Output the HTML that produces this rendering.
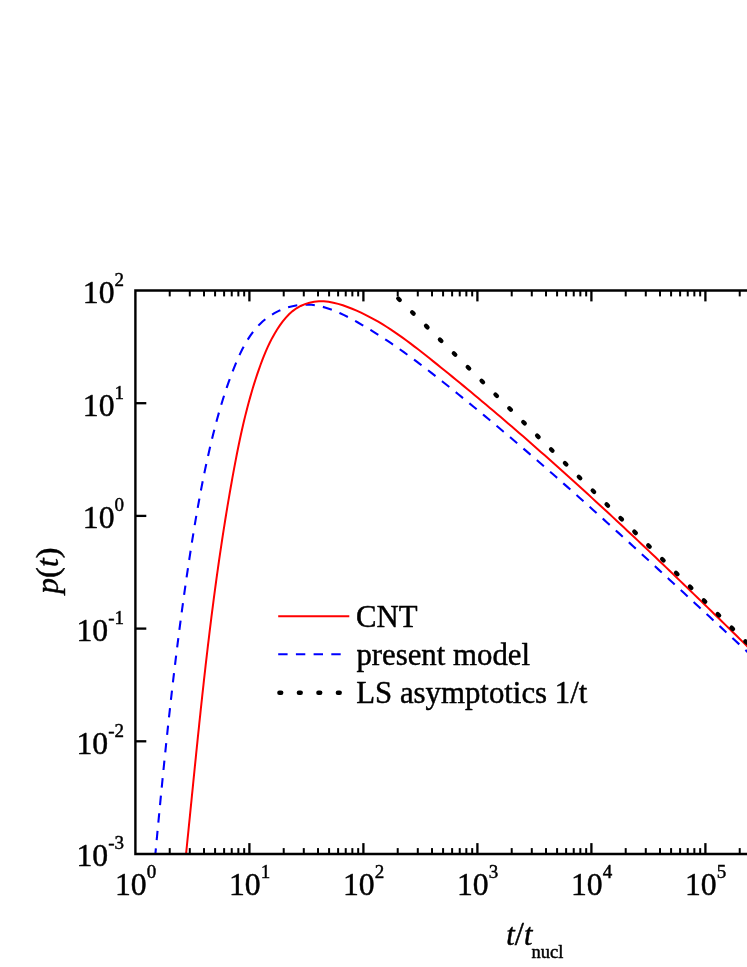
<!DOCTYPE html>
<html><head><meta charset="utf-8"><title>p(t)</title>
<style>
html,body{margin:0;padding:0;background:#fff;}
body{width:747px;height:967px;overflow:hidden;font-family:"Liberation Serif",serif;}
svg{display:block;will-change:transform;}
text{font-family:"Liberation Serif",serif;fill:#000;stroke:#000;stroke-width:0.45px;stroke-linejoin:round;}
.tl{font-size:31.7px;}
.sup{font-size:19px;}
.lg{font-size:30.8px;}
.it{font-style:italic;}
</style></head><body>
<svg width="747" height="967" viewBox="0 0 747 967">
<rect x="0" y="0" width="747" height="967" fill="#fff"/>
<defs><clipPath id="pc"><rect x="135.4" y="290.5" width="616.6" height="563.5"/></clipPath></defs>

<g clip-path="url(#pc)" fill="none">
<path d="M155.37,854.05 L155.83,849.12 L156.29,844.19 L156.76,839.27 L157.22,834.34 L157.68,829.42 L158.15,824.50 L158.62,819.58 L159.09,814.66 L159.56,809.74 L160.04,804.82 L160.51,799.90 L160.99,794.98 L161.47,790.07 L161.96,785.15 L162.44,780.24 L162.93,775.32 L163.43,770.41 L163.92,765.50 L164.42,760.59 L164.93,755.68 L165.43,750.77 L165.94,745.86 L166.46,740.95 L166.97,736.05 L167.50,731.14 L168.02,726.23 L168.55,721.33 L169.09,716.42 L169.62,711.52 L170.17,706.62 L170.72,701.72 L171.27,696.81 L171.83,691.91 L172.39,687.01 L172.96,682.11 L173.53,677.21 L174.11,672.31 L174.70,667.42 L175.29,662.52 L175.88,657.62 L176.48,652.72 L177.09,647.83 L177.71,642.93 L178.33,638.04 L178.95,633.14 L179.59,628.25 L180.23,623.35 L180.88,618.46 L181.53,613.57 L182.19,608.68 L182.86,603.78 L183.54,598.89 L184.22,594.00 L184.91,589.11 L185.61,584.22 L186.31,579.33 L187.03,574.43 L187.75,569.54 L188.48,564.65 L189.22,559.76 L189.97,554.88 L190.72,549.99 L191.49,545.10 L192.26,540.21 L193.05,535.32 L193.84,530.44 L194.65,525.56 L195.48,520.68 L196.31,515.80 L197.16,510.93 L198.03,506.06 L198.91,501.20 L199.80,496.34 L200.72,491.49 L201.65,486.64 L202.60,481.80 L203.57,476.96 L204.56,472.13 L205.58,467.31 L206.61,462.50 L207.66,457.69 L208.74,452.90 L209.84,448.11 L210.97,443.33 L212.12,438.56 L213.30,433.80 L214.50,429.06 L215.74,424.32 L217.00,419.59 L218.31,414.87 L219.65,410.15 L221.04,405.44 L222.47,400.74 L223.95,396.04 L225.48,391.35 L227.07,386.65 L228.71,381.96 L230.42,377.27 L232.20,372.58 L234.04,367.88 L235.95,363.19 L237.95,358.52 L240.05,353.90 L242.27,349.34 L244.63,344.88 L247.14,340.54 L249.82,336.35 L252.68,332.33 L255.75,328.50 L259.03,324.89 L262.55,321.54 L266.31,318.44 L270.28,315.63 L274.44,313.11 L278.76,310.89 L283.23,308.98 L287.81,307.40 L292.48,306.16 L297.21,305.27 L301.99,304.74 L306.78,304.58 L311.56,304.81 L316.31,305.42 L321.04,306.38 L325.73,307.65 L330.39,309.19 L335.01,310.98 L339.60,312.98 L344.14,315.14 L348.65,317.44 L353.11,319.83 L357.52,322.29 L361.89,324.79 L366.22,327.34 L370.51,329.93 L374.75,332.56 L378.96,335.23 L383.13,337.93 L387.27,340.67 L391.38,343.44 L395.45,346.24 L399.50,349.08 L403.52,351.94 L407.52,354.83 L411.49,357.74 L415.44,360.68 L419.37,363.64 L423.29,366.61 L427.18,369.61 L431.07,372.62 L434.94,375.65 L438.80,378.69 L442.66,381.74 L446.50,384.80 L450.34,387.87 L454.18,390.95 L458.01,394.04 L461.83,397.13 L465.65,400.23 L469.47,403.35 L473.28,406.47 L477.08,409.59 L480.88,412.73 L484.68,415.87 L488.47,419.02 L492.25,422.17 L496.03,425.34 L499.80,428.51 L503.58,431.69 L507.34,434.87 L511.10,438.06 L514.86,441.26 L518.61,444.46 L522.36,447.67 L526.11,450.89 L529.85,454.11 L533.58,457.34 L537.31,460.57 L541.04,463.81 L544.76,467.05 L548.49,470.30 L552.20,473.56 L555.91,476.82 L559.62,480.08 L563.33,483.35 L567.03,486.63 L570.73,489.91 L574.42,493.19 L578.12,496.48 L581.80,499.77 L585.49,503.06 L589.17,506.36 L592.85,509.67 L596.53,512.97 L600.20,516.28 L603.87,519.60 L607.54,522.91 L611.20,526.23 L614.87,529.56 L618.52,532.88 L622.18,536.21 L625.84,539.54 L629.49,542.88 L633.14,546.21 L636.79,549.55 L640.43,552.89 L644.07,556.23 L647.72,559.58 L651.35,562.92 L654.99,566.27 L658.63,569.62 L662.26,572.97 L665.89,576.32 L669.52,579.67 L673.15,583.03 L676.78,586.38 L680.40,589.73 L684.02,593.09 L687.65,596.45 L691.27,599.80 L694.89,603.16 L698.51,606.51 L702.12,609.87 L705.74,613.23 L709.36,616.58 L712.97,619.94 L716.58,623.29 L720.20,626.64 L723.81,630.00 L727.42,633.35 L731.03,636.70 L734.64,640.05 L738.25,643.39 L741.86,646.74 L745.47,650.08 L749.08,653.43 L752.69,656.77 L756.30,660.11 L759.91,663.44" stroke="#0000ff" stroke-width="2.1" stroke-dasharray="9.4 8.23" stroke-dashoffset="3.7"/>
<path d="M186.06,853.92 L186.56,849.09 L187.05,844.26 L187.54,839.44 L188.03,834.61 L188.51,829.78 L189.00,824.95 L189.49,820.12 L189.97,815.29 L190.46,810.46 L190.94,805.62 L191.43,800.79 L191.91,795.96 L192.40,791.13 L192.88,786.29 L193.37,781.46 L193.85,776.63 L194.34,771.79 L194.83,766.96 L195.32,762.13 L195.81,757.29 L196.30,752.46 L196.80,747.63 L197.29,742.79 L197.79,737.96 L198.29,733.12 L198.80,728.29 L199.30,723.46 L199.81,718.62 L200.32,713.79 L200.83,708.96 L201.35,704.13 L201.87,699.29 L202.40,694.46 L202.93,689.63 L203.46,684.80 L203.99,679.97 L204.53,675.14 L205.08,670.31 L205.63,665.48 L206.18,660.65 L206.74,655.82 L207.31,651.00 L207.87,646.17 L208.45,641.34 L209.03,636.52 L209.62,631.70 L210.21,626.87 L210.80,622.05 L211.41,617.23 L212.02,612.41 L212.64,607.59 L213.26,602.77 L213.89,597.95 L214.53,593.13 L215.17,588.32 L215.83,583.50 L216.49,578.69 L217.15,573.88 L217.83,569.07 L218.51,564.26 L219.21,559.45 L219.91,554.64 L220.62,549.84 L221.33,545.03 L222.06,540.23 L222.80,535.43 L223.54,530.63 L224.30,525.83 L225.06,521.03 L225.83,516.24 L226.62,511.44 L227.41,506.65 L228.21,501.86 L229.03,497.07 L229.85,492.28 L230.69,487.50 L231.54,482.71 L232.39,477.93 L233.26,473.15 L234.14,468.37 L235.04,463.60 L235.95,458.83 L236.88,454.06 L237.83,449.30 L238.80,444.54 L239.79,439.79 L240.81,435.04 L241.86,430.30 L242.94,425.57 L244.04,420.84 L245.18,416.13 L246.36,411.42 L247.57,406.72 L248.83,402.03 L250.12,397.36 L251.45,392.69 L252.83,388.04 L254.26,383.40 L255.74,378.77 L257.26,374.16 L258.84,369.56 L260.47,364.97 L262.17,360.41 L263.94,355.87 L265.80,351.37 L267.77,346.91 L269.86,342.51 L272.08,338.16 L274.45,333.89 L276.97,329.69 L279.68,325.58 L282.57,321.59 L285.68,317.79 L289.02,314.26 L292.61,311.07 L296.47,308.28 L300.61,305.96 L304.97,304.10 L309.51,302.71 L314.19,301.79 L318.95,301.34 L323.75,301.36 L328.56,301.83 L333.35,302.69 L338.11,303.88 L342.83,305.32 L347.49,306.97 L352.08,308.76 L356.60,310.66 L361.05,312.68 L365.44,314.80 L369.76,317.02 L374.02,319.33 L378.23,321.73 L382.39,324.21 L386.50,326.77 L390.57,329.40 L394.59,332.09 L398.58,334.84 L402.53,337.65 L406.45,340.51 L410.34,343.40 L414.21,346.34 L418.06,349.30 L421.89,352.29 L425.71,355.30 L429.52,358.33 L433.32,361.36 L437.11,364.40 L440.90,367.44 L444.68,370.50 L448.46,373.56 L452.23,376.62 L456.00,379.70 L459.76,382.78 L463.51,385.87 L467.26,388.96 L471.00,392.06 L474.73,395.17 L478.46,398.28 L482.19,401.40 L485.91,404.53 L489.62,407.66 L493.33,410.80 L497.04,413.94 L500.73,417.09 L504.43,420.25 L508.12,423.41 L511.80,426.58 L515.48,429.75 L519.15,432.93 L522.82,436.12 L526.48,439.31 L530.14,442.51 L533.79,445.71 L537.44,448.91 L541.09,452.13 L544.73,455.34 L548.36,458.57 L551.99,461.80 L555.62,465.03 L559.24,468.27 L562.86,471.51 L566.47,474.76 L570.08,478.01 L573.69,481.27 L577.29,484.53 L580.88,487.79 L584.47,491.07 L588.06,494.34 L591.65,497.62 L595.23,500.90 L598.80,504.19 L602.38,507.49 L605.95,510.78 L609.51,514.08 L613.07,517.39 L616.63,520.70 L620.19,524.01 L623.74,527.33 L627.28,530.65 L630.83,533.97 L634.37,537.30 L637.91,540.63 L641.44,543.96 L644.97,547.30 L648.50,550.64 L652.03,553.99 L655.55,557.33 L659.07,560.68 L662.58,564.04 L666.10,567.40 L669.61,570.76 L673.11,574.12 L676.62,577.48 L680.12,580.85 L683.62,584.22 L687.12,587.60 L690.61,590.98 L694.10,594.35 L697.59,597.74 L701.08,601.12 L704.56,604.51 L708.05,607.89 L711.53,611.28 L715.01,614.68 L718.48,618.07 L721.96,621.47 L725.43,624.87 L728.90,628.27 L732.37,631.67 L735.83,635.08 L739.30,638.48 L742.76,641.89 L746.22,645.30 L749.68,648.71 L753.14,652.12 L756.59,655.53 L760.05,658.95" stroke="#ff0000" stroke-width="2.0"/>
</g>
<g stroke="#000" stroke-width="4.3" stroke-linecap="round">
<line x1="398.25" y1="298.46" x2="399.75" y2="299.94"/>
<line x1="412.14" y1="312.18" x2="413.63" y2="313.65"/>
<line x1="426.03" y1="325.89" x2="427.52" y2="327.37"/>
<line x1="439.91" y1="339.61" x2="441.41" y2="341.09"/>
<line x1="453.80" y1="353.33" x2="455.30" y2="354.80"/>
<line x1="467.69" y1="367.04" x2="469.18" y2="368.52"/>
<line x1="481.57" y1="380.76" x2="483.07" y2="382.23"/>
<line x1="495.46" y1="394.47" x2="496.96" y2="395.95"/>
<line x1="509.35" y1="408.19" x2="510.84" y2="409.67"/>
<line x1="523.24" y1="421.91" x2="524.73" y2="423.38"/>
<line x1="537.12" y1="435.62" x2="538.62" y2="437.10"/>
<line x1="551.01" y1="449.34" x2="552.50" y2="450.81"/>
<line x1="564.90" y1="463.05" x2="566.39" y2="464.53"/>
<line x1="578.78" y1="476.77" x2="580.28" y2="478.25"/>
<line x1="592.67" y1="490.49" x2="594.17" y2="491.96"/>
<line x1="606.56" y1="504.20" x2="608.05" y2="505.68"/>
<line x1="620.44" y1="517.92" x2="621.94" y2="519.39"/>
<line x1="634.33" y1="531.63" x2="635.83" y2="533.11"/>
<line x1="648.22" y1="545.35" x2="649.71" y2="546.83"/>
<line x1="662.11" y1="559.07" x2="663.60" y2="560.54"/>
<line x1="675.99" y1="572.78" x2="677.49" y2="574.26"/>
<line x1="689.88" y1="586.50" x2="691.37" y2="587.97"/>
<line x1="703.77" y1="600.21" x2="705.26" y2="601.69"/>
<line x1="717.65" y1="613.93" x2="719.15" y2="615.41"/>
<line x1="731.54" y1="627.65" x2="733.04" y2="629.12"/>
<line x1="745.43" y1="641.36" x2="746.92" y2="642.84"/>
</g>
<g stroke="#000" stroke-width="2.4" fill="none" stroke-linecap="butt">
<path d="M749,290.5 L135.4,290.5 L135.4,854.0 L749,854.0" stroke-linejoin="miter"/>
</g>
<g stroke="#000" stroke-width="2.3">
<line x1="169.72" y1="290.5" x2="169.72" y2="296.4" stroke-width="2"/>
<line x1="169.72" y1="854.0" x2="169.72" y2="848.1" stroke-width="2"/>
<line x1="189.79" y1="290.5" x2="189.79" y2="296.4" stroke-width="2"/>
<line x1="189.79" y1="854.0" x2="189.79" y2="848.1" stroke-width="2"/>
<line x1="204.03" y1="290.5" x2="204.03" y2="296.4" stroke-width="2"/>
<line x1="204.03" y1="854.0" x2="204.03" y2="848.1" stroke-width="2"/>
<line x1="215.08" y1="290.5" x2="215.08" y2="296.4" stroke-width="2"/>
<line x1="215.08" y1="854.0" x2="215.08" y2="848.1" stroke-width="2"/>
<line x1="224.11" y1="290.5" x2="224.11" y2="296.4" stroke-width="2"/>
<line x1="224.11" y1="854.0" x2="224.11" y2="848.1" stroke-width="2"/>
<line x1="231.74" y1="290.5" x2="231.74" y2="296.4" stroke-width="2"/>
<line x1="231.74" y1="854.0" x2="231.74" y2="848.1" stroke-width="2"/>
<line x1="238.35" y1="290.5" x2="238.35" y2="296.4" stroke-width="2"/>
<line x1="238.35" y1="854.0" x2="238.35" y2="848.1" stroke-width="2"/>
<line x1="244.18" y1="290.5" x2="244.18" y2="296.4" stroke-width="2"/>
<line x1="244.18" y1="854.0" x2="244.18" y2="848.1" stroke-width="2"/>
<line x1="249.40" y1="290.5" x2="249.40" y2="301.4"/>
<line x1="249.40" y1="854.0" x2="249.40" y2="843.1"/>
<line x1="283.72" y1="290.5" x2="283.72" y2="296.4" stroke-width="2"/>
<line x1="283.72" y1="854.0" x2="283.72" y2="848.1" stroke-width="2"/>
<line x1="303.79" y1="290.5" x2="303.79" y2="296.4" stroke-width="2"/>
<line x1="303.79" y1="854.0" x2="303.79" y2="848.1" stroke-width="2"/>
<line x1="318.03" y1="290.5" x2="318.03" y2="296.4" stroke-width="2"/>
<line x1="318.03" y1="854.0" x2="318.03" y2="848.1" stroke-width="2"/>
<line x1="329.08" y1="290.5" x2="329.08" y2="296.4" stroke-width="2"/>
<line x1="329.08" y1="854.0" x2="329.08" y2="848.1" stroke-width="2"/>
<line x1="338.11" y1="290.5" x2="338.11" y2="296.4" stroke-width="2"/>
<line x1="338.11" y1="854.0" x2="338.11" y2="848.1" stroke-width="2"/>
<line x1="345.74" y1="290.5" x2="345.74" y2="296.4" stroke-width="2"/>
<line x1="345.74" y1="854.0" x2="345.74" y2="848.1" stroke-width="2"/>
<line x1="352.35" y1="290.5" x2="352.35" y2="296.4" stroke-width="2"/>
<line x1="352.35" y1="854.0" x2="352.35" y2="848.1" stroke-width="2"/>
<line x1="358.18" y1="290.5" x2="358.18" y2="296.4" stroke-width="2"/>
<line x1="358.18" y1="854.0" x2="358.18" y2="848.1" stroke-width="2"/>
<line x1="363.40" y1="290.5" x2="363.40" y2="301.4"/>
<line x1="363.40" y1="854.0" x2="363.40" y2="843.1"/>
<line x1="397.72" y1="290.5" x2="397.72" y2="296.4" stroke-width="2"/>
<line x1="397.72" y1="854.0" x2="397.72" y2="848.1" stroke-width="2"/>
<line x1="417.79" y1="290.5" x2="417.79" y2="296.4" stroke-width="2"/>
<line x1="417.79" y1="854.0" x2="417.79" y2="848.1" stroke-width="2"/>
<line x1="432.03" y1="290.5" x2="432.03" y2="296.4" stroke-width="2"/>
<line x1="432.03" y1="854.0" x2="432.03" y2="848.1" stroke-width="2"/>
<line x1="443.08" y1="290.5" x2="443.08" y2="296.4" stroke-width="2"/>
<line x1="443.08" y1="854.0" x2="443.08" y2="848.1" stroke-width="2"/>
<line x1="452.11" y1="290.5" x2="452.11" y2="296.4" stroke-width="2"/>
<line x1="452.11" y1="854.0" x2="452.11" y2="848.1" stroke-width="2"/>
<line x1="459.74" y1="290.5" x2="459.74" y2="296.4" stroke-width="2"/>
<line x1="459.74" y1="854.0" x2="459.74" y2="848.1" stroke-width="2"/>
<line x1="466.35" y1="290.5" x2="466.35" y2="296.4" stroke-width="2"/>
<line x1="466.35" y1="854.0" x2="466.35" y2="848.1" stroke-width="2"/>
<line x1="472.18" y1="290.5" x2="472.18" y2="296.4" stroke-width="2"/>
<line x1="472.18" y1="854.0" x2="472.18" y2="848.1" stroke-width="2"/>
<line x1="477.40" y1="290.5" x2="477.40" y2="301.4"/>
<line x1="477.40" y1="854.0" x2="477.40" y2="843.1"/>
<line x1="511.72" y1="290.5" x2="511.72" y2="296.4" stroke-width="2"/>
<line x1="511.72" y1="854.0" x2="511.72" y2="848.1" stroke-width="2"/>
<line x1="531.79" y1="290.5" x2="531.79" y2="296.4" stroke-width="2"/>
<line x1="531.79" y1="854.0" x2="531.79" y2="848.1" stroke-width="2"/>
<line x1="546.03" y1="290.5" x2="546.03" y2="296.4" stroke-width="2"/>
<line x1="546.03" y1="854.0" x2="546.03" y2="848.1" stroke-width="2"/>
<line x1="557.08" y1="290.5" x2="557.08" y2="296.4" stroke-width="2"/>
<line x1="557.08" y1="854.0" x2="557.08" y2="848.1" stroke-width="2"/>
<line x1="566.11" y1="290.5" x2="566.11" y2="296.4" stroke-width="2"/>
<line x1="566.11" y1="854.0" x2="566.11" y2="848.1" stroke-width="2"/>
<line x1="573.74" y1="290.5" x2="573.74" y2="296.4" stroke-width="2"/>
<line x1="573.74" y1="854.0" x2="573.74" y2="848.1" stroke-width="2"/>
<line x1="580.35" y1="290.5" x2="580.35" y2="296.4" stroke-width="2"/>
<line x1="580.35" y1="854.0" x2="580.35" y2="848.1" stroke-width="2"/>
<line x1="586.18" y1="290.5" x2="586.18" y2="296.4" stroke-width="2"/>
<line x1="586.18" y1="854.0" x2="586.18" y2="848.1" stroke-width="2"/>
<line x1="591.40" y1="290.5" x2="591.40" y2="301.4"/>
<line x1="591.40" y1="854.0" x2="591.40" y2="843.1"/>
<line x1="625.72" y1="290.5" x2="625.72" y2="296.4" stroke-width="2"/>
<line x1="625.72" y1="854.0" x2="625.72" y2="848.1" stroke-width="2"/>
<line x1="645.79" y1="290.5" x2="645.79" y2="296.4" stroke-width="2"/>
<line x1="645.79" y1="854.0" x2="645.79" y2="848.1" stroke-width="2"/>
<line x1="660.03" y1="290.5" x2="660.03" y2="296.4" stroke-width="2"/>
<line x1="660.03" y1="854.0" x2="660.03" y2="848.1" stroke-width="2"/>
<line x1="671.08" y1="290.5" x2="671.08" y2="296.4" stroke-width="2"/>
<line x1="671.08" y1="854.0" x2="671.08" y2="848.1" stroke-width="2"/>
<line x1="680.11" y1="290.5" x2="680.11" y2="296.4" stroke-width="2"/>
<line x1="680.11" y1="854.0" x2="680.11" y2="848.1" stroke-width="2"/>
<line x1="687.74" y1="290.5" x2="687.74" y2="296.4" stroke-width="2"/>
<line x1="687.74" y1="854.0" x2="687.74" y2="848.1" stroke-width="2"/>
<line x1="694.35" y1="290.5" x2="694.35" y2="296.4" stroke-width="2"/>
<line x1="694.35" y1="854.0" x2="694.35" y2="848.1" stroke-width="2"/>
<line x1="700.18" y1="290.5" x2="700.18" y2="296.4" stroke-width="2"/>
<line x1="700.18" y1="854.0" x2="700.18" y2="848.1" stroke-width="2"/>
<line x1="705.40" y1="290.5" x2="705.40" y2="301.4"/>
<line x1="705.40" y1="854.0" x2="705.40" y2="843.1"/>
<line x1="739.72" y1="290.5" x2="739.72" y2="296.4" stroke-width="2"/>
<line x1="739.72" y1="854.0" x2="739.72" y2="848.1" stroke-width="2"/>
<line x1="135.4" y1="741.30" x2="146.3" y2="741.30"/>
<line x1="135.4" y1="628.60" x2="146.3" y2="628.60"/>
<line x1="135.4" y1="515.90" x2="146.3" y2="515.90"/>
<line x1="135.4" y1="403.20" x2="146.3" y2="403.20"/>
</g>
<text x="124" y="866.40" text-anchor="end" class="tl">10<tspan class="sup" dy="-17.1">-3</tspan></text>
<text x="124" y="753.70" text-anchor="end" class="tl">10<tspan class="sup" dy="-17.1">-2</tspan></text>
<text x="124" y="641.00" text-anchor="end" class="tl">10<tspan class="sup" dy="-17.1">-1</tspan></text>
<text x="124" y="528.30" text-anchor="end" class="tl">10<tspan class="sup" dy="-17.1">0</tspan></text>
<text x="124" y="415.60" text-anchor="end" class="tl">10<tspan class="sup" dy="-17.1">1</tspan></text>
<text x="124" y="302.90" text-anchor="end" class="tl">10<tspan class="sup" dy="-17.1">2</tspan></text>
<text x="135.60" y="894.8" text-anchor="middle" class="tl">10<tspan class="sup" dy="-17.1">0</tspan></text>
<text x="249.60" y="894.8" text-anchor="middle" class="tl">10<tspan class="sup" dy="-17.1">1</tspan></text>
<text x="363.60" y="894.8" text-anchor="middle" class="tl">10<tspan class="sup" dy="-17.1">2</tspan></text>
<text x="477.60" y="894.8" text-anchor="middle" class="tl">10<tspan class="sup" dy="-17.1">3</tspan></text>
<text x="591.60" y="894.8" text-anchor="middle" class="tl">10<tspan class="sup" dy="-17.1">4</tspan></text>
<text x="705.60" y="894.8" text-anchor="middle" class="tl">10<tspan class="sup" dy="-17.1">5</tspan></text>
<line x1="278.2" y1="616.3" x2="349.3" y2="616.3" stroke="#ff0000" stroke-width="2.0"/>
<line x1="278.2" y1="654.3" x2="341" y2="654.3" stroke="#0000ff" stroke-width="2.1" stroke-dasharray="9.4 8.3"/>
<g stroke="#000" stroke-width="4.4" stroke-linecap="round">
<line x1="279.40000000000003" y1="692.8" x2="281.2" y2="692.8"/>
<line x1="298.90000000000003" y1="692.8" x2="300.7" y2="692.8"/>
<line x1="318.40000000000003" y1="692.8" x2="320.2" y2="692.8"/>
<line x1="337.90000000000003" y1="692.8" x2="339.7" y2="692.8"/>
</g>
<text x="356.0" y="626.8" class="lg">CNT</text>
<text x="356.4" y="664.6" class="lg">present model</text>
<text x="356.3" y="702.8" class="lg">LS asymptotics 1/t</text>
<text transform="translate(58.2,570.6) rotate(-90)" text-anchor="middle" font-size="32.5"><tspan class="it" font-size="31.5">p</tspan>(<tspan class="it" font-size="31.5">t</tspan>)</text>
<text x="506.3" y="945.2" font-size="33"><tspan class="it" font-size="30.5">t</tspan>/<tspan class="it" font-size="30.5">t</tspan><tspan font-size="18.5" dy="12.4" dx="-1">nucl</tspan></text>
</svg></body></html>
